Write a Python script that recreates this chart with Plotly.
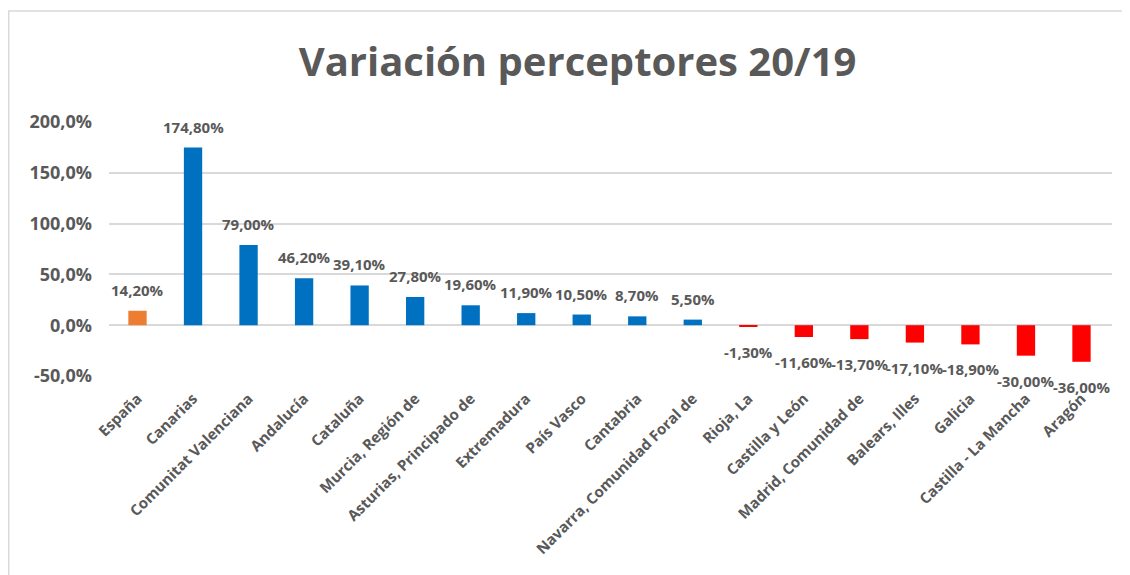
import plotly.graph_objects as go

# Data
regions = [
    'España', 'Canarias', 'Comunitat Valenciana', 'Andalucía', 'Cataluña',
    'Murcia, Región de', 'Asturias, Principado de', 'Extremadura', 'País Vasco',
    'Cantabria', 'Navarra, Comunidad Foral de', 'Rioja, La', 'Castilla y León',
    'Madrid, Comunidad de', 'Balears, Illes', 'Galicia', 'Castilla - La Mancha', 'Aragón'
]
variation = [14.2, 174.8, 79.0, 46.2, 39.1, 27.8, 19.6, 11.9, 10.5,
             8.7, 5.5, -1.3, -11.6, -13.7, -17.1, -18.9, -30.0, -36.0]
y_ticks = [-50, 0, 50, 100, 150, 200]

BLUE = '#0070C0'
ORANGE = '#ED7D31'
RED = '#FF0000'
GREY = '#595959'


def bar_color(name, v):
    if name == 'España':
        return ORANGE
    return BLUE if v >= 0 else RED


colors = [bar_color(n, v) for n, v in zip(regions, variation)]
labels = [f'{v:.2f}'.replace('.', ',') + '%' for v in variation]

fig = go.Figure()
fig.add_trace(go.Bar(
    x=regions,
    y=variation,
    marker=dict(color=colors, line=dict(width=0)),
    width=0.33,
    hoverinfo='x+y',
))

# Data labels above/below each bar
for name, v, txt in zip(regions, variation, labels):
    fig.add_annotation(
        x=name, y=v, text=f'<b>{txt}</b>', showarrow=False,
        yanchor='middle', yshift=21 if v >= 0 else -25,
        font=dict(size=15, color=GREY, family='Open Sans, sans-serif'),
    )

# Outer chart frame (light grey); page body adds an 8px offset
fig.add_shape(type='rect', xref='paper', yref='paper',
              x0=-0.1, x1=1.05, y0=-1.0, y1=1.437,
              line=dict(color='#D9D9D9', width=1.5), layer='below')

fig.update_layout(
    title=dict(
        text='<b>Variación perceptores 20/19</b>',
        x=0.504, xanchor='center', y=0.906, yanchor='middle',
        font=dict(size=40, color=GREY, family='Open Sans, sans-serif'),
    ),
    width=1130, height=575,
    margin=dict(l=101, r=26, t=114, b=207, autoexpand=False),
    plot_bgcolor='white', paper_bgcolor='white',
    showlegend=False,
    font=dict(family='Open Sans, sans-serif', color=GREY),
    xaxis=dict(
        tickangle=-45,
        tickvals=regions,
        ticktext=[f'<b>{r}</b>' for r in regions],
        tickfont=dict(size=15, color=GREY),
        ticklabelstandoff=10,
        showgrid=False, showline=False, ticks='',
        automargin=False,
    ),
    yaxis=dict(
        range=[-50, 200],
        tickvals=y_ticks,
        ticktext=[f'<b>{t:.1f}'.replace('.', ',') + '%</b>' for t in y_ticks],
        tickfont=dict(size=18, color=GREY),
        ticklabelstandoff=16,
        showgrid=True, gridcolor='#D9D9D9', gridwidth=1.5,
        zeroline=True, zerolinecolor='#D9D9D9', zerolinewidth=1.5,
        ticks='', ticklen=0,
        automargin=False,
    ),
)

fig.write_html('out.html')
